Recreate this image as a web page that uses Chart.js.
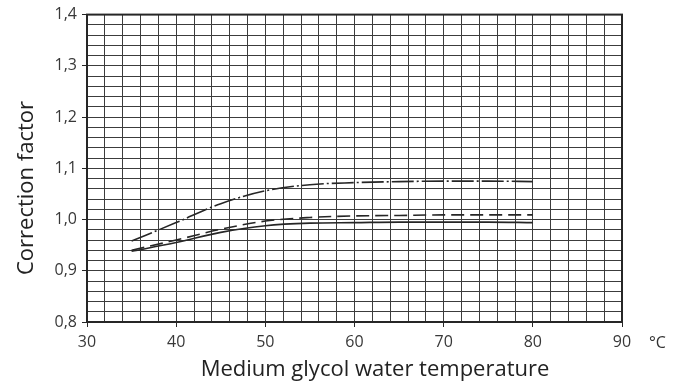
<!DOCTYPE html>
<html>
<head>
<meta charset="utf-8">
<script src="https://cdn.jsdelivr.net/npm/chart.js@4"></script>
<style>
  html, body { margin: 0; padding: 0; background: #fff; }
  #wrap { width: 678px; height: 387px; }
</style>
</head>
<body>
<div id="wrap"><canvas id="corr"></canvas></div>
<script>
// temperatures (°C) where the curves were read
const temps = [35, 40, 45, 50, 55, 60, 65, 70, 75, 80];

// correction factor curves
const dashDot = [0.958, 0.994, 1.031, 1.056, 1.068, 1.072, 1.074, 1.075, 1.075, 1.074];
const dashed  = [0.940, 0.960, 0.981, 0.997, 1.004, 1.007, 1.008, 1.009, 1.009, 1.009];
const solid   = [0.938, 0.955, 0.975, 0.988, 0.993, 0.994, 0.995, 0.995, 0.995, 0.994];

const xMin = 30, xMax = 90, xStep = 2;
const yMin = 0.8, yMax = 1.4, yStep = 0.02;

const xTitle = 'Medium glycol water temperature';
const yTitle = 'Correction factor';
const unitLabel = '°C';

const ink = '#262626';
const FONT = "'Open Sans', 'DejaVu Sans', sans-serif";

function pts(ys) {
  return temps.map((t, i) => ({ x: t, y: ys[i] }));
}

function isMajor(v, every) {
  const q = v / every;
  return Math.abs(q - Math.round(q)) < 1e-6;
}

// frame round the plot, axis titles and the unit label after 90
const framePlugin = {
  id: 'frame',
  afterDraw(chart) {
    const { ctx, chartArea: a, scales } = chart;
    ctx.save();
    ctx.strokeStyle = ink;
    ctx.lineWidth = 2;
    ctx.strokeRect(a.left, a.top, a.right - a.left, a.bottom - a.top);

    ctx.fillStyle = '#333';
    ctx.font = '16px ' + FONT;
    ctx.textBaseline = 'middle';
    ctx.textAlign = 'left';
    ctx.fillText(unitLabel, scales.x.getPixelForValue(90) + 27, 343);

    ctx.fillStyle = '#222';
    ctx.font = '22px ' + FONT;
    ctx.textBaseline = 'alphabetic';
    ctx.textAlign = 'center';
    ctx.fillText(xTitle, 375, 376);

    ctx.translate(33, 188);
    ctx.rotate(-Math.PI / 2);
    ctx.fillText(yTitle, 0, 0);
    ctx.restore();
  }
};

new Chart(document.getElementById('corr'), {
  type: 'line',
  data: {
    datasets: [
      { data: pts(dashDot), borderDash: [22, 3, 2, 3] },
      { data: pts(dashed), borderDash: [13, 6] },
      { data: pts(solid), borderDash: [] }
    ].map(d => Object.assign({
      borderColor: ink,
      borderWidth: 1.6,
      pointRadius: 0,
      fill: false,
      cubicInterpolationMode: 'monotone'
    }, d))
  },
  options: {
    responsive: true,
    maintainAspectRatio: false,
    animation: false,
    layout: { padding: { top: 12, right: 56, bottom: 0, left: 0 } },
    plugins: { legend: { display: false }, tooltip: { enabled: false } },
    scales: {
      x: {
        type: 'linear',
        min: xMin, max: xMax,
        afterFit(s) { s.height = 65; },
        border: { display: false },
        grid: {
          color: '#3c3c3c',
          lineWidth: 1,
          tickLength: 5,
          tickColor: c => isMajor(c.tick.value, 10) ? ink : 'rgba(0,0,0,0)'
        },
        ticks: {
          stepSize: xStep,
          autoSkip: false,
          maxRotation: 0,
          padding: 6,
          color: '#383838',
          font: { family: FONT, size: 16 },
          callback: v => isMajor(v, 10) ? String(Math.round(v)) : ''
        }
      },
      y: {
        min: yMin, max: yMax,
        afterFit(s) { s.width = 87; },
        border: { display: false },
        grid: {
          color: '#3c3c3c',
          lineWidth: 1,
          tickLength: 5,
          tickColor: c => isMajor(c.tick.value, 0.1) ? ink : 'rgba(0,0,0,0)'
        },
        ticks: {
          stepSize: yStep,
          autoSkip: false,
          padding: 5,
          color: '#383838',
          font: { family: FONT, size: 16 },
          callback: v => isMajor(v, 0.1) ? v.toFixed(1).replace('.', ',') : ''
        }
      }
    }
  },
  plugins: [framePlugin]
});
</script>
</body>
</html>
